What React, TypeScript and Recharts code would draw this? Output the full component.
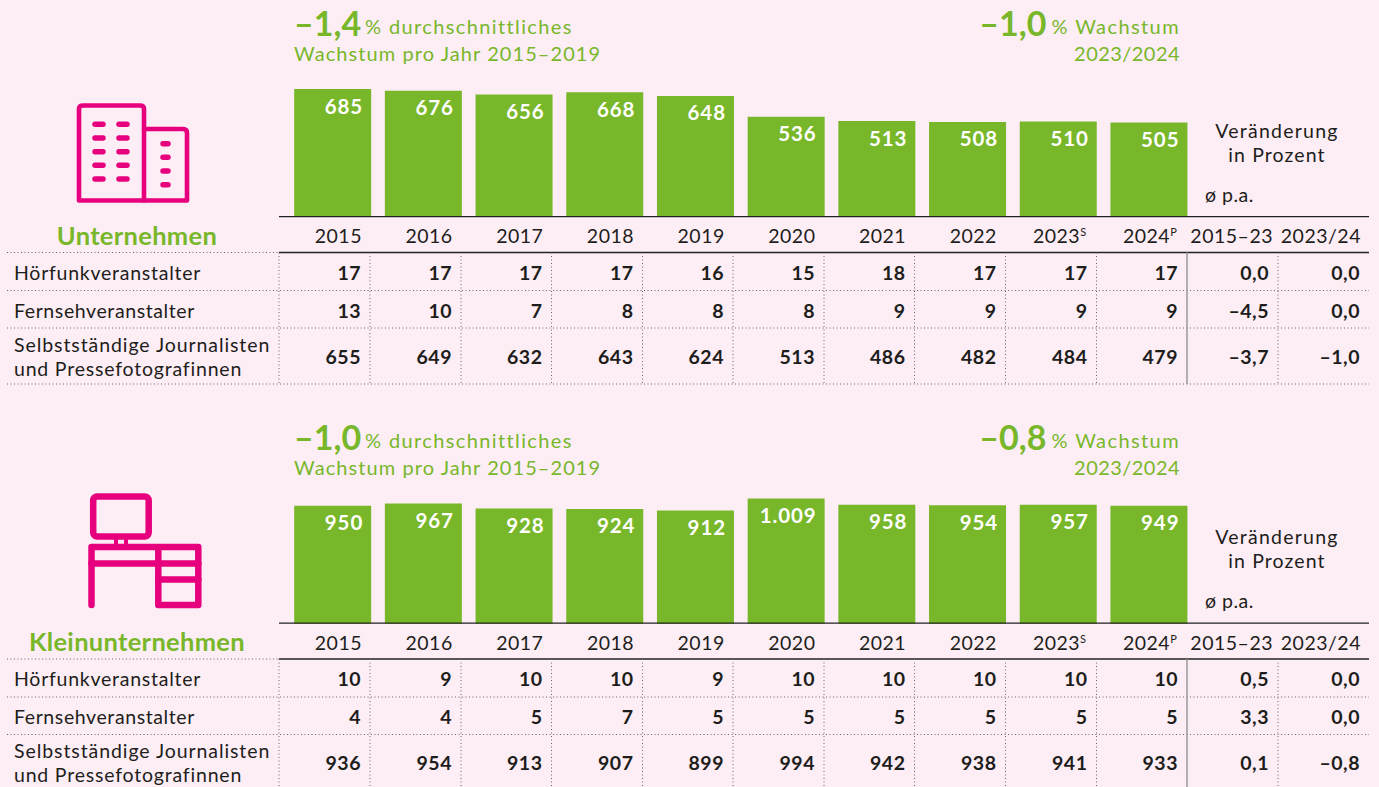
import React from "react";
import { BarChart, Bar, XAxis, YAxis, LabelList } from "recharts";

const years = ["2015", "2016", "2017", "2018", "2019", "2020", "2021", "2022", "2023", "2024"];
const yearMarks = ["", "", "", "", "", "", "", "", "S", "P"];
const changeHeads = ["2015–23", "2023/24"];

const companyTotals = [685, 676, 656, 668, 648, 536, 513, 508, 510, 505];
const smallTotals = [950, 967, 928, 924, 912, 1009, 958, 954, 957, 949];

const rowNames = ["Hörfunkveranstalter", "Fernsehveranstalter"];
const rowNameLast = ["Selbstständige Journalisten", "und Pressefotografinnen"];

const companyRadio = [17, 17, 17, 17, 16, 15, 18, 17, 17, 17];
const companyTv = [13, 10, 7, 8, 8, 8, 9, 9, 9, 9];
const companyFree = [655, 649, 632, 643, 624, 513, 486, 482, 484, 479];
const companyChange = [["0,0", "0,0"], ["–4,5", "0,0"], ["–3,7", "–1,0"]];

const smallRadio = [10, 9, 10, 10, 9, 10, 10, 10, 10, 10];
const smallTv = [4, 4, 5, 7, 5, 5, 5, 5, 5, 5];
const smallFree = [936, 954, 913, 907, 899, 994, 942, 938, 941, 933];
const smallChange = [["0,5", "0,0"], ["3,3", "0,0"], ["0,1", "–0,8"]];

const GREEN = "#78b72a";
const PINK = "#e6007e";
const BG = "#fdeef5";
const INK = "#1d1d1b";
const FONT = "Lato, sans-serif";
const W = 1379;
const H = 787;

const numFmt = (v: number) => v.toLocaleString("de-DE");
const colEdges = [279, 370, 461, 551.5, 642.5, 733, 824, 914.5, 1005.5, 1096.5, 1187, 1278, 1369];

function BarLabel(props: any) {
  const { x, y, width, value } = props;
  return (
    <text x={x + width - 8} y={y + 24.5} textAnchor="end" fill="#fff" fontFamily={FONT} fontWeight={700} fontSize={20.5} letterSpacing={0.9}>
      {numFmt(value)}
    </text>
  );
}

function YearTick(props: any) {
  const { x, y, payload, index } = props;
  return (
    <text x={x + (index >= 8 ? 28.5 : 29.5)} y={y + 20} textAnchor="end" fill={INK} fontFamily={FONT} fontSize={19.5} letterSpacing={0.5}>
      {payload.value}
      {yearMarks[index] ? <tspan fontSize={11} dy={-7}>{yearMarks[index]}</tspan> : null}
    </text>
  );
}

function Bars({ totals, top, plotTop, plotH, max }: { totals: number[]; top: number; plotTop: number; plotH: number; max: number }) {
  const data = years.map((y, i) => ({ year: y, total: totals[i] }));
  const axisH = 40;
  return (
    <div style={{ position: "absolute", left: 0, top }}>
      <BarChart width={W} height={plotTop + plotH + axisH} data={data} barCategoryGap={0} margin={{ top: plotTop, left: 287.15, right: W - 1194.15, bottom: 0 }}>
        <YAxis hide domain={[0, max]} />
        <XAxis dataKey="year" height={axisH} interval={0} axisLine={false} tickLine={false} tick={<YearTick />} tickMargin={0} />
        <Bar dataKey="total" fill={GREEN} barSize={77} isAnimationActive={false}>
          <LabelList dataKey="total" content={<BarLabel />} />
        </Bar>
      </BarChart>
    </div>
  );
}

function T({ x, y, anchor = "start", size = 19.5, weight = 400, fill = INK, ls = 0.5, children }: any) {
  return (
    <text x={x} y={y} textAnchor={anchor} fontSize={size} fontWeight={weight} fill={fill} fontFamily={FONT} letterSpacing={ls}>
      {children}
    </text>
  );
}

function Table({ dy, rows, change, bottom }: { dy: number; rows: number[][]; change: string[][]; bottom: number }) {
  const lineYs = [290.5, 328];
  const centers = [279.5, 317.5, 363.5];
  const dash = "1 2.5";
  return (
    <g>
      {[...lineYs, bottom].map((yy) => (
        <line key={yy} x1={7} x2={1369} y1={yy + dy} y2={yy + dy} stroke="#666" strokeDasharray={dash} />
      ))}
      <line x1={7} x2={279} y1={252.5 + dy} y2={252.5 + dy} stroke="#666" strokeDasharray={dash} />
      <line x1={279} x2={1369} y1={216.7 + dy} y2={216.7 + dy} stroke="#222" strokeWidth={1.3} />
      <line x1={279} x2={1369} y1={252.5 + dy} y2={252.5 + dy} stroke="#222" strokeWidth={1.3} />
      {colEdges.slice(0, -1).map((xx) => (
        xx === 1187
          ? <line key={xx} x1={xx} x2={xx} y1={252.5 + dy} y2={bottom + dy} stroke="#999" strokeWidth={1.5} />
          : <line key={xx} x1={xx} x2={xx} y1={252.5 + dy} y2={bottom + dy} stroke="#666" strokeDasharray={dash} />
      ))}
      <T x={1273} y={243 + dy} anchor="end">{changeHeads[0]}</T>
      <T x={1361} y={243 + dy} anchor="end">{changeHeads[1]}</T>
      <T x={14} y={279.5 + dy} ls={0.75}>{rowNames[0]}</T>
      <T x={14} y={317.5 + dy} ls={0.6}>{rowNames[1]}</T>
      <T x={14} y={351.5 + dy} ls={0.92}>{rowNameLast[0]}</T>
      <T x={14} y={375.5 + dy} ls={0.8}>{rowNameLast[1]}</T>
      {rows.map((r, ri) =>
        r.map((v, ci) => (
          <T key={ri + "-" + ci} x={colEdges[ci + 1] - 9} y={centers[ri] + dy} anchor="end" weight={700}>{v}</T>
        ))
      )}
      {change.map((r, ri) =>
        r.map((v, ci) => (
          <T key={ri + "c" + ci} x={colEdges[ci + 11] - 9} y={centers[ri] + dy} anchor="end" weight={700}>{v}</T>
        ))
      )}
      <T x={1277} y={137.5 + dy} anchor="middle" ls={1.25}>Veränderung</T>
      <T x={1277} y={161.5 + dy} anchor="middle" ls={1.1}>in Prozent</T>
      <T x={1205} y={201.5 + dy}>ø p.a.</T>
    </g>
  );
}

function Head({ dy, a, b }: { dy: number; a: string; b: string }) {
  return (
    <g>
      <T x={294} y={36 + dy} size={34} weight={700} fill={GREEN} ls={0}>{a}</T>
      <T x={365} y={34 + dy} size={20} fill={GREEN} ls={1.38}>% durchschnittliches</T>
      <T x={294} y={61 + dy} size={20} fill={GREEN} ls={1.07}>Wachstum pro Jahr 2015–2019</T>
      <text x={1180} y={34 + dy} textAnchor="end" fontFamily={FONT} fill={GREEN} fontSize={20} letterSpacing={1.4}>
        <tspan fontSize={34} fontWeight={700} letterSpacing={0} dy={2}>{b}</tspan>
        <tspan dx={5} dy={-2}>% Wachstum</tspan>
      </text>
      <T x={1180} y={61 + dy} anchor="end" size={20} fill={GREEN} ls={0.45}>2023/2024</T>
    </g>
  );
}

function BuildingIcon() {
  const rows = [124.3, 138, 151.7, 165.3, 179];
  const rows2 = [143.7, 157.3, 171, 184.7];
  return (
    <g stroke={PINK} fill="none" strokeLinecap="round" strokeLinejoin="round">
      <path d="M79 200.5 V109 Q79 105.5 83 105.5 H140 Q144 105.5 144 109 V200.5 Z" strokeWidth={4.6} />
      <path d="M144 129 H183 Q187 129 187 133 V200.5 H144" strokeWidth={4.6} />
      {rows.map((y) => (
        <g key={y} strokeWidth={5.5}>
          <line x1={95} x2={103} y1={y} y2={y} />
          <line x1={119} x2={127} y1={y} y2={y} />
        </g>
      ))}
      {rows2.map((y) => (
        <line key={y} x1={163} x2={168} y1={y} y2={y} strokeWidth={5.5} />
      ))}
    </g>
  );
}

function DeskIcon() {
  return (
    <g stroke={PINK} fill="none" strokeLinecap="round" strokeLinejoin="round" strokeWidth={6.5}>
      <rect x={93.2} y={496.5} width={55.5} height={40} rx={4} />
      <line x1={116} x2={116} y1={539} y2={544} strokeWidth={4} strokeLinecap="butt" />
      <line x1={126} x2={126} y1={539} y2={544} strokeWidth={4} strokeLinecap="butt" />
      <path d="M91.5 605 V547 H198.3 V605 H158.3 V547" />
      <line x1={91.5} x2={158.3} y1={563.5} y2={563.5} />
      <line x1={158.3} x2={198.3} y1={563.5} y2={563.5} />
      <line x1={158.3} x2={198.3} y1={579.5} y2={579.5} />
    </g>
  );
}

export default function App() {
  return (
    <div style={{ position: "absolute", left: 0, top: 0, width: W, height: H, background: BG, overflow: "hidden" }}>
      <Bars totals={companyTotals} top={0} plotTop={89} plotH={127.5} max={685} />
      <Bars totals={smallTotals} top={406.6} plotTop={91.4} plotH={125.3} max={1009} />
      <svg width={W} height={H} style={{ position: "absolute", left: 0, top: 0, pointerEvents: "none" }}>
        <Head dy={0} a="–1,4" b="–1,0" />
        <Head dy={414} a="–1,0" b="–0,8" />
        <Table dy={0} rows={[companyRadio, companyTv, companyFree]} change={companyChange} bottom={384} />
        <Table dy={406.5} rows={[smallRadio, smallTv, smallFree]} change={smallChange} bottom={384} />
        <BuildingIcon />
        <DeskIcon />
        <T x={137} y={245} anchor="middle" size={25.5} weight={700} fill={GREEN} ls={0.3}>Unternehmen</T>
        <T x={137} y={651} anchor="middle" size={25.5} weight={700} fill={GREEN} ls={0.3}>Kleinunternehmen</T>
      </svg>
    </div>
  );
}
